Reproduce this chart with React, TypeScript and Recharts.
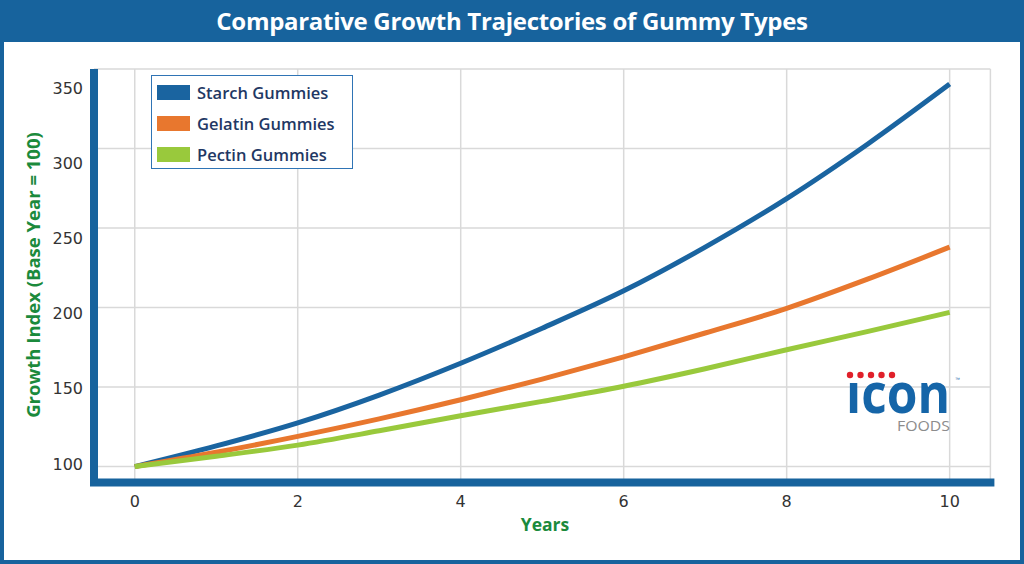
import { LineChart, Line, XAxis, YAxis, CartesianGrid } from 'recharts'

const years = [0, 1, 2, 3, 4, 5, 6, 7, 8, 9, 10]
const starch = [100, 113, 127.5, 145, 165, 187, 210.5, 238, 268.5, 303, 340.5]
const gelatin = [100, 109, 119, 130, 142, 155, 169, 184, 199.5, 218, 238]
const pectin = [100, 106.5, 113.5, 122.5, 132, 141, 150.5, 161.5, 173.5, 185, 197]

const xTicks = [0, 2, 4, 6, 8, 10]
const yTicks = [100, 150, 200, 250, 300, 350]

const SERIES = [
  { key: 'starch', name: 'Starch Gummies', color: '#1a64a0' },
  { key: 'gelatin', name: 'Gelatin Gummies', color: '#e8772e' },
  { key: 'pectin', name: 'Pectin Gummies', color: '#99c93c' },
]

const data = years.map((year, i) => ({
  year,
  starch: starch[i],
  gelatin: gelatin[i],
  pectin: pectin[i],
}))

const BLUE = '#17639d'
const GREEN = '#1b8a3c'
const TICK_FONT = '"DejaVu Sans", sans-serif'

// y labels in the original sit a bit lower than their gridlines, more so near the top
function YTick({ x, y, payload }: any) {
  const shift = -2.7 + (466.7 - y) * 0.0546
  return (
    <text x={x} y={y + shift} dy="0.36em" textAnchor="end" fill="#333" fontSize={16} fontFamily={TICK_FONT}>
      {payload.value}
    </text>
  )
}

function LegendBox() {
  return (
    <div
      style={{
        position: 'absolute',
        left: 151,
        top: 75,
        width: 202,
        height: 94,
        boxSizing: 'border-box',
        border: '1.5px solid #2f74b5',
        background: '#fff',
        padding: '1px 0 0 5px',
      }}
    >
      {SERIES.map((s) => (
        <div key={s.key} style={{ display: 'flex', alignItems: 'center', height: 31 }}>
          <span style={{ display: 'inline-block', width: 33, height: 15, background: s.color, marginRight: 7 }} />
          <span style={{ fontFamily: '"Open Sans", sans-serif', fontWeight: 600, fontSize: 16.5, color: '#1f3864' }}>
            {s.name}
          </span>
        </div>
      ))}
    </div>
  )
}

export default function App() {
  return (
    <div style={{ position: 'absolute', left: 0, top: 0, width: 1024, height: 564, background: '#fff', overflow: 'hidden' }}>
      <LineChart width={1024} height={564} data={data} margin={{ top: 69, right: 33.6, bottom: 0, left: 0 }}>
        <CartesianGrid stroke="#d9d9d9" strokeWidth={1.5} />
        <XAxis
          dataKey="year"
          type="number"
          domain={[-0.5, 10.5]}
          ticks={xTicks}
          height={81.5}
          tickLine={false}
          tickSize={0}
          tickMargin={13}
          axisLine={{ stroke: BLUE, strokeWidth: 8, strokeLinecap: 'square' }}
          tick={{ fill: '#333', fontSize: 16, fontFamily: TICK_FONT }}
        />
        <YAxis
          type="number"
          domain={[90, 350]}
          ticks={yTicks}
          width={94}
          tickLine={false}
          tickSize={0}
          tickMargin={11}
          axisLine={{ stroke: BLUE, strokeWidth: 8 }}
          tick={<YTick />}
        />
        {SERIES.map((s) => (
          <Line
            key={s.key}
            type="monotone"
            dataKey={s.key}
            name={s.name}
            stroke={s.color}
            strokeWidth={5}
            dot={false}
            isAnimationActive={false}
          />
        ))}
      </LineChart>

      <LegendBox />

      {/* title band */}
      <div
        style={{
          position: 'absolute',
          left: 0,
          top: 0,
          width: 1024,
          height: 42,
          background: BLUE,
          color: '#fff',
          fontFamily: '"Open Sans", sans-serif',
          fontWeight: 700,
          fontSize: 24,
          lineHeight: '42px',
          textAlign: 'center',
          letterSpacing: -0.3,
        }}
      >
        Comparative Growth Trajectories of Gummy Types
      </div>

      {/* frame */}
      <div
        style={{
          position: 'absolute',
          left: 0,
          top: 0,
          width: 1024,
          height: 564,
          boxSizing: 'border-box',
          border: `4px solid ${BLUE}`,
          pointerEvents: 'none',
        }}
      />

      <svg width={1024} height={564} style={{ position: 'absolute', left: 0, top: 0, pointerEvents: 'none' }}>
        <text
          transform="translate(40 275) rotate(-90)"
          textAnchor="middle"
          fill={GREEN}
          fontFamily='"Open Sans", sans-serif'
          fontWeight={700}
          fontSize={18.5}
        >
          Growth Index (Base Year = 100)
        </text>
        <text x={545} y={531} textAnchor="middle" fill={GREEN} fontFamily='"Open Sans", sans-serif' fontWeight={700} fontSize={17.5}>
          Years
        </text>

        {/* logo */}
        {[850, 860.5, 871, 881.5, 892].map((cx) => (
          <circle key={cx} cx={cx} cy={375} r={3.2} fill="#e0202a" />
        ))}
        <text
          x={846}
          y={413}
          fill="#1565a8"
          fontFamily='"Open Sans", sans-serif'
          fontWeight={700}
          fontSize={55}
          textLength={104}
          lengthAdjust="spacingAndGlyphs"
        >
          ıcon
        </text>
        <text x={955} y={381} fill="#1565a8" fontSize={5} fontFamily="sans-serif">™</text>
        <text
          x={897}
          y={431}
          fill="#8c8c8c"
          fontFamily='"Open Sans", sans-serif'
          fontSize={14}
          textLength={53}
          lengthAdjust="spacingAndGlyphs"
        >
          FOODS
        </text>
      </svg>
    </div>
  )
}
